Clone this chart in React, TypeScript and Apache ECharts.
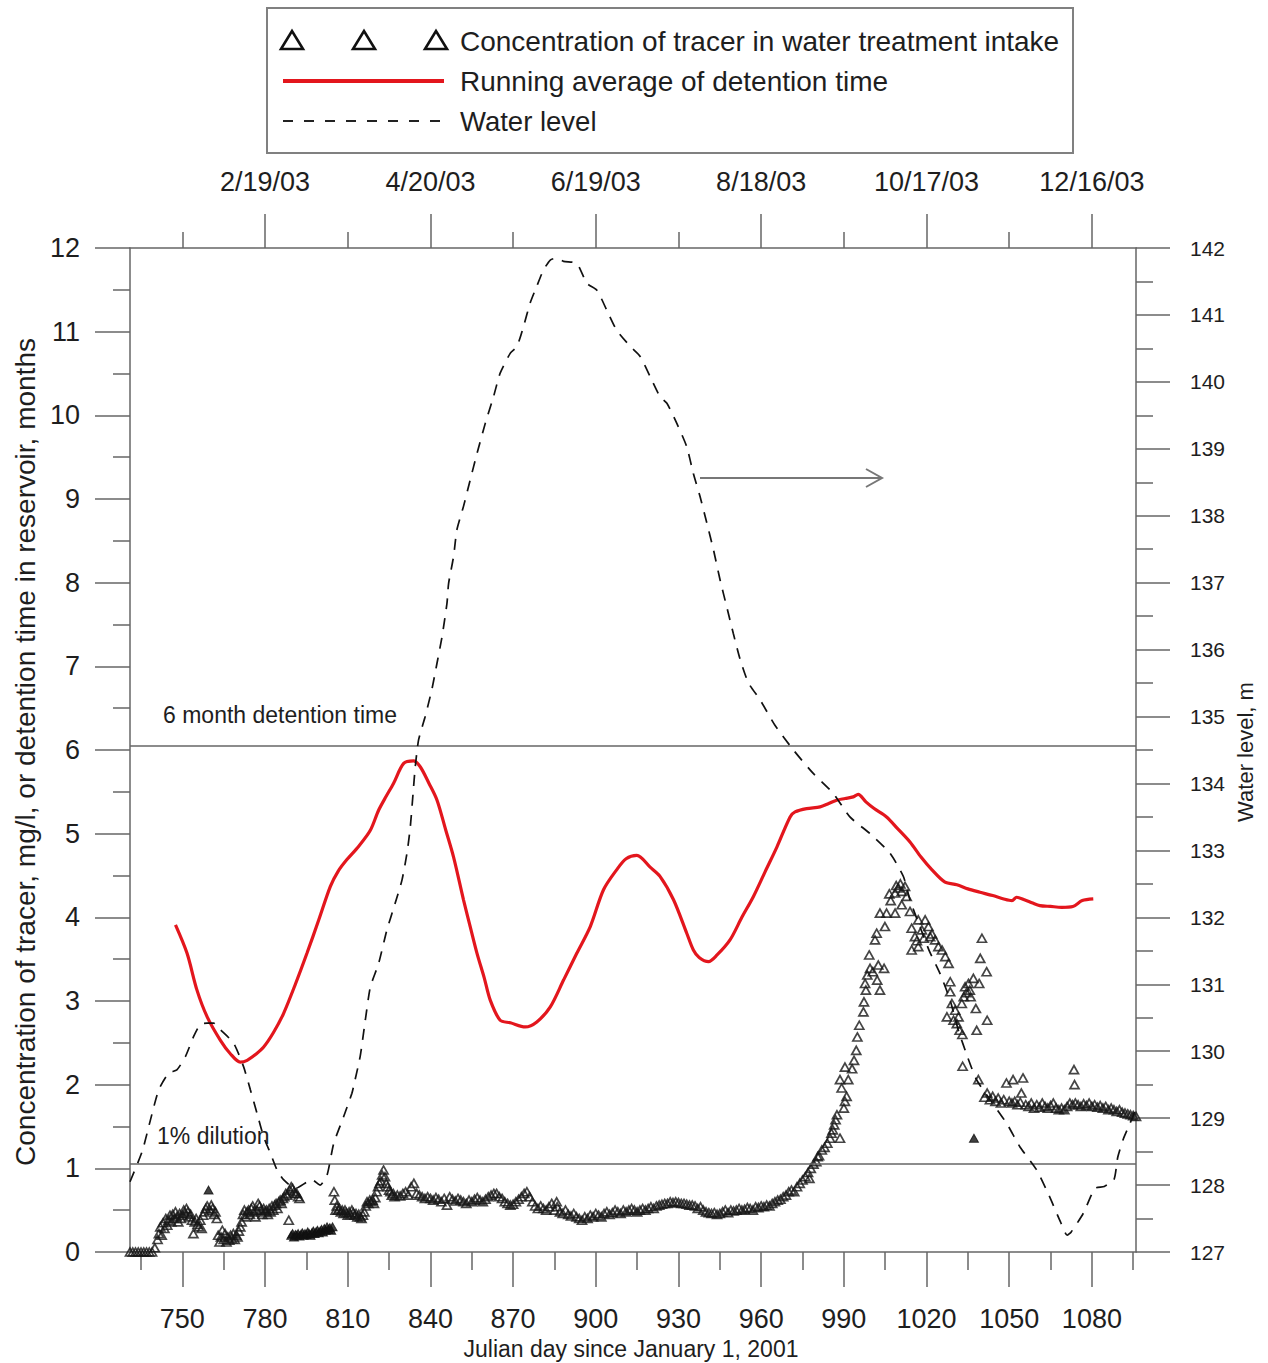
import React, { useEffect, useRef } from "react";
import * as echarts from "echarts";

// ---------- axis ticks / labels ----------
const bottomMajorTicks = [750, 780, 810, 840, 870, 900, 930, 960, 990, 1020, 1050, 1080];
const bottomMinorTicks = [735, 765, 795, 825, 855, 885, 915, 945, 975, 1005, 1035, 1065, 1095];
const topMajorDays = [780, 840, 900, 960, 1020, 1080];
const topDateLabels = ["2/19/03", "4/20/03", "6/19/03", "8/18/03", "10/17/03", "12/16/03"];
const topMinorDays = [750, 810, 870, 930, 990, 1050];

// reference lines (months)
const detentionLineValue = 6.05;
const dilutionLineValue = 1.05;

// ---------- running average of detention time (day, months) ----------
const detention: [number, number][] = [
  [747.5, 3.91], [751.7, 3.57], [755.3, 3.13], [759, 2.81], [763.8, 2.53], [767.4, 2.37], [771, 2.27],
  [773.5, 2.29], [776.5, 2.36], [779.5, 2.45], [783, 2.62], [786.7, 2.85], [791, 3.2], [795.2, 3.57],
  [799.5, 3.97], [803.7, 4.37], [806.5, 4.55], [809.7, 4.69], [814, 4.85], [818.2, 5.04], [821.2, 5.28],
  [824, 5.45], [826.6, 5.6], [830.3, 5.84], [833.9, 5.87], [836.3, 5.8], [839.5, 5.6], [842.4, 5.4],
  [845.5, 5.05], [848.4, 4.72], [852, 4.21], [854.5, 3.88], [856.9, 3.57], [859.5, 3.28], [861.7, 3.01],
  [865.3, 2.77], [869, 2.74], [874.4, 2.69], [878.6, 2.75], [883.5, 2.93], [888.3, 3.25], [893.1, 3.57],
  [898, 3.89], [902.8, 4.33], [907.6, 4.57], [911, 4.7], [914.9, 4.74], [919.7, 4.6], [923.3, 4.49],
  [928.2, 4.21], [933, 3.81], [935.4, 3.61], [937.5, 3.52], [940.9, 3.47], [944, 3.55], [948.7, 3.73],
  [953, 4.0], [957.2, 4.25], [961.5, 4.55], [965.7, 4.84], [970.5, 5.2], [972.3, 5.26], [976.5, 5.3],
  [981.4, 5.32], [984.5, 5.36], [987.4, 5.4], [990.5, 5.42], [993.4, 5.44], [995.2, 5.47], [998, 5.38],
  [1001, 5.3], [1005.5, 5.2], [1009.5, 5.06], [1014, 4.9], [1018, 4.72], [1021.9, 4.57], [1026.7, 4.42],
  [1031, 4.39], [1035, 4.34], [1039.4, 4.3], [1044, 4.26], [1048, 4.22], [1051, 4.2], [1052.7, 4.24],
  [1055.5, 4.21], [1058.5, 4.17], [1061.1, 4.14], [1065, 4.13], [1069, 4.12], [1073.1, 4.13],
  [1076.5, 4.2], [1080.5, 4.22],
];

// ---------- water level (day, m) ----------
const waterLevel: [number, number][] = [
  [731, 128.05], [735.4, 128.5], [738.4, 128.97], [741.4, 129.42], [745, 129.67], [748, 129.72],
  [751.1, 129.92], [754.1, 130.22], [756.5, 130.4], [759, 130.42], [761.3, 130.42], [763.8, 130.32],
  [768.6, 130.12], [772.2, 129.77], [774.7, 129.42], [777.1, 129.07], [779.5, 128.72], [782, 128.47],
  [784.3, 128.23], [786.7, 128.08], [791, 127.95], [797, 128.08], [800, 128.0], [802.5, 128.15],
  [804.9, 128.62], [808.5, 129.02], [811.5, 129.37], [812.1, 129.47], [814.5, 129.92], [816.4, 130.47],
  [818.2, 130.96], [821.2, 131.31], [824.2, 131.81], [827.2, 132.21], [829.7, 132.56], [831.5, 132.96],
  [832.7, 133.35], [833.7, 133.85], [834.5, 134.25], [835.7, 134.65], [838.1, 135.0], [840.5, 135.4],
  [842.4, 135.8], [844.2, 136.19], [846.0, 136.69], [846.6, 136.99], [848.4, 137.39], [849.6, 137.79],
  [852, 138.14], [854.4, 138.53], [856.9, 138.93], [859.9, 139.38], [862.9, 139.78], [865.3, 140.13],
  [869, 140.43], [871.4, 140.53], [873.8, 140.83], [876.2, 141.18], [878.6, 141.43], [881, 141.67],
  [883.5, 141.82], [885.9, 141.85], [888.3, 141.8], [893.1, 141.77], [896.8, 141.47], [900.4, 141.37],
  [904, 141.07], [907.6, 140.77], [912.5, 140.53], [916.1, 140.38], [919.7, 140.08], [923.3, 139.78],
  [925.8, 139.68], [929.4, 139.38], [933, 139.03], [935.4, 138.63], [937.8, 138.29], [940.3, 137.89],
  [942.7, 137.49], [945.1, 137.04], [947.5, 136.64], [949.9, 136.24], [952.4, 135.85], [955.4, 135.5],
  [959.6, 135.25], [965, 134.87], [971.7, 134.5], [978.9, 134.15], [986.2, 133.85], [992.2, 133.5],
  [999.5, 133.25], [1006.7, 132.96], [1011.6, 132.61], [1014, 132.26], [1017.6, 131.86], [1021, 131.5],
  [1024.9, 131.16], [1028.5, 130.77], [1031.5, 130.32], [1035, 129.9], [1038.2, 129.57], [1043.5, 129.25],
  [1049.1, 128.92], [1053.9, 128.57], [1059.9, 128.23], [1064.6, 127.83], [1068.6, 127.45], [1071, 127.25],
  [1072.5, 127.3], [1076.9, 127.58], [1081.1, 127.95], [1084.5, 127.98], [1088, 128.08], [1089.4, 128.42],
  [1091.5, 128.7], [1093.8, 128.92], [1096, 129.15],
];

// ---------- tracer concentration (day, mg/l) ----------
const tracerEarly: [number, number][] = [
  [731, 0], [732, 0], [733, 0], [734, 0], [735, 0], [736, 0], [737, 0], [738, 0], [739, 0],
  [740, 0.05], [741, 0.15], [741.5, 0.22], [742, 0.3], [742.5, 0.2], [743, 0.35], [743.5, 0.28],
  [744, 0.4], [744.5, 0.32], [745, 0.38], [745.5, 0.44], [746, 0.36], [746.5, 0.45], [747, 0.4],
  [747.5, 0.48], [748, 0.42], [748.5, 0.36], [749, 0.46], [749.5, 0.4], [750, 0.44], [750.5, 0.5],
  [751, 0.46], [751.5, 0.52], [752, 0.48], [752.5, 0.42], [753, 0.45], [753.5, 0.38], [754, 0.22],
  [754.5, 0.36], [755, 0.4], [755.5, 0.33], [756, 0.3], [756.5, 0.38], [757, 0.28], [757.5, 0.44],
  [758, 0.48], [758.5, 0.52], [759, 0.55], [760, 0.5], [760.5, 0.56], [761, 0.52],
  [761.5, 0.45], [762, 0.48], [762.5, 0.4],
  [763, 0.2], [763.5, 0.12], [764, 0.18], [764.5, 0.26], [765, 0.15], [765.5, 0.22], [766, 0.12],
  [766.5, 0.18], [767, 0.14], [767.5, 0.2], [768, 0.16], [768.5, 0.22], [769, 0.15], [769.5, 0.2],
  [770, 0.18], [770.5, 0.25], [771, 0.3],
  [771.5, 0.36], [772, 0.45], [772.5, 0.5], [773, 0.42], [773.5, 0.48], [774, 0.5], [774.5, 0.45],
  [775, 0.52], [775.5, 0.55], [776, 0.48], [776.5, 0.42], [777, 0.5], [777.5, 0.58], [778, 0.55],
  [778.5, 0.5], [779, 0.45], [779.5, 0.52], [780, 0.48], [780.5, 0.5], [781, 0.45], [781.5, 0.52],
  [782, 0.48], [782.5, 0.55], [783, 0.5], [783.5, 0.56], [784, 0.58], [784.5, 0.52], [785, 0.6],
  [785.5, 0.62], [786, 0.58], [786.5, 0.64], [787, 0.66], [787.5, 0.7], [788, 0.68], [788.6, 0.38],
  [789, 0.74], [789.5, 0.78], [790, 0.76], [790.5, 0.72], [791, 0.7], [791.5, 0.7], [792, 0.66],
  [792.5, 0.64],
  [805, 0.72], [805.3, 0.62], [805.6, 0.5], [806, 0.55], [806.5, 0.5], [807, 0.52], [807.5, 0.48],
  [808, 0.5], [808.5, 0.46], [809, 0.5], [809.5, 0.47], [810, 0.44], [810.5, 0.48], [811, 0.45],
  [811.5, 0.5], [812, 0.47], [812.5, 0.44], [813, 0.46], [813.5, 0.42], [814, 0.45], [814.5, 0.42],
  [815, 0.4], [815.5, 0.44], [816, 0.48], [816.5, 0.55], [817, 0.6], [817.5, 0.58], [818, 0.62],
  [818.5, 0.6], [819, 0.62], [819.5, 0.58], [820, 0.65], [820.5, 0.72], [821, 0.78], [821.5, 0.82],
  [822, 0.85], [822.5, 0.92], [823, 0.98], [823.5, 0.9], [824, 0.82], [824.5, 0.78], [825, 0.74],
  [825.5, 0.72], [826, 0.68], [826.5, 0.7],
];

const tracerMid: [number, number][] = [
  [827, 0.66], [828, 0.68], [829, 0.67], [830, 0.7], [831, 0.72], [832, 0.68], [833, 0.78], [834, 0.82],
  [835, 0.7], [836, 0.68], [837, 0.66], [838, 0.64], [839, 0.66], [840, 0.64], [841, 0.62], [842, 0.65],
  [843, 0.63], [844, 0.6], [845, 0.64], [846, 0.56], [847, 0.66], [848, 0.63], [849, 0.61], [850, 0.64],
  [851, 0.62], [852, 0.6], [853, 0.58], [854, 0.62], [855, 0.6], [856, 0.63], [857, 0.65], [858, 0.62],
  [859, 0.6], [860, 0.63], [861, 0.66], [862, 0.68], [863, 0.7], [864, 0.7], [865, 0.66], [866, 0.64],
  [867, 0.6], [868, 0.58], [869, 0.56], [870, 0.57], [871, 0.6], [872, 0.63], [873, 0.66], [874, 0.7],
  [875, 0.72], [876, 0.66], [877, 0.6], [878, 0.55], [879, 0.52], [880, 0.55], [881, 0.52], [882, 0.5],
  [883, 0.54], [884, 0.58], [885, 0.5], [885.8, 0.6], [886, 0.54], [887, 0.48], [888, 0.46], [889, 0.5],
  [890, 0.45], [891, 0.43], [892, 0.46], [893, 0.42], [894, 0.4], [895, 0.38], [896, 0.42], [897, 0.4],
  [898, 0.44], [899, 0.42], [900, 0.46], [901, 0.44], [902, 0.42], [903, 0.46], [904, 0.48], [905, 0.45],
  [906, 0.47], [907, 0.5], [908, 0.48], [909, 0.46], [910, 0.5], [911, 0.48], [912, 0.5], [913, 0.52],
  [914, 0.5], [915, 0.48], [916, 0.5], [917, 0.52], [918, 0.5], [919, 0.52], [920, 0.54], [921, 0.52],
  [922, 0.55], [923, 0.56], [924, 0.57], [925, 0.58], [926, 0.58], [927, 0.6], [928, 0.59], [929, 0.6],
  [930, 0.59], [931, 0.58], [932, 0.58], [933, 0.57], [934, 0.56], [935, 0.56], [936, 0.55], [937, 0.52],
  [938, 0.54], [939, 0.5], [940, 0.48], [941, 0.47], [942, 0.46], [943, 0.47], [944, 0.45], [945, 0.46],
  [946, 0.48], [947, 0.5], [948, 0.47], [949, 0.5], [950, 0.49], [951, 0.5], [952, 0.52], [953, 0.5],
  [954, 0.51], [955, 0.53], [956, 0.52], [957, 0.5], [958, 0.54], [959, 0.53], [960, 0.55],
];

const tracerPeak: [number, number][] = [
  [961, 0.54], [962, 0.56], [963, 0.55], [964, 0.58], [965, 0.6], [966, 0.62], [967, 0.63], [968, 0.66],
  [969, 0.68], [970, 0.72], [971, 0.74], [972, 0.72], [973, 0.78], [974, 0.82], [975, 0.86], [976, 0.9],
  [977, 0.95], [977.5, 0.88], [978, 1.0], [979, 1.05], [980, 1.08], [980.5, 1.14], [981, 1.15],
  [982, 1.22], [983, 1.25], [984, 1.3], [985, 1.36], [985.5, 1.42], [986, 1.46], [986.5, 1.52],
  [987, 1.58], [987.5, 1.64], [988.6, 1.36], [988.6, 2.06], [989.2, 1.96], [990, 1.72], [990.4, 1.8],
  [991, 1.86], [991.6, 2.06], [990.4, 2.21], [993, 2.19], [993.7, 2.29], [994.5, 2.41], [994.9, 2.57],
  [995.6, 2.71], [997.1, 2.87], [997.3, 2.99], [998, 3.13], [997.7, 3.21], [998.5, 3.31], [999.5, 3.39],
  [1000.5, 3.35], [1002.1, 3.25], [1003.1, 3.13], [1002.5, 3.43], [1004.6, 3.39], [999.2, 3.55],
  [1001.3, 3.73], [1001.9, 3.81], [1003.1, 4.05], [1005.5, 4.05], [1004.9, 3.89], [1008.6, 4.05],
  [1008.6, 4.29], [1009.8, 4.35], [1011, 4.31], [1012.2, 4.37], [1012.8, 4.25], [1011, 4.15],
  [1007, 4.2], [1006.5, 4.28], [1010.5, 4.4], [1009, 4.38], [1014, 4.07], [1014.6, 3.87], [1014.6, 3.61],
  [1015.8, 3.77], [1017, 3.97], [1018.3, 3.85], [1019.5, 3.97], [1020.7, 3.89], [1021.3, 3.77],
  [1023.1, 3.73], [1024.3, 3.65], [1025.6, 3.61], [1026.8, 3.53], [1028, 3.45], [1017, 3.65],
  [1016.5, 3.72], [1019, 3.75], [1022, 3.8], [1028.6, 3.23], [1028.6, 3.11], [1029.2, 2.97],
  [1030.4, 2.89], [1031.6, 2.81], [1032.8, 2.97], [1027.4, 2.81], [1029.8, 2.77], [1031, 2.73],
  [1034, 3.17], [1035.2, 3.21], [1037, 3.27], [1035.7, 3.13], [1039.1, 3.21], [1037.9, 2.91],
  [1038.2, 2.65], [1042, 2.77], [1041.8, 3.35], [1039.5, 3.51], [1040.1, 3.75], [1033.1, 2.22],
  [1038.8, 2.06], [1033.5, 3.05], [1034.5, 3.1], [1036, 3.05], [1032, 2.65], [1033, 2.6],
];

const tracerLate: [number, number][] = [
  [1041, 1.85], [1042, 1.9], [1043, 1.82], [1044, 1.86], [1045, 1.8], [1046, 1.84], [1047, 1.78],
  [1048, 1.82], [1049, 2.02], [1050, 1.8], [1051, 1.78], [1051.4, 2.06], [1052, 1.8], [1053, 1.76],
  [1054, 1.79], [1055, 2.08], [1054.4, 1.9], [1056, 1.76], [1057, 1.74], [1058, 1.78], [1059, 1.72],
  [1060, 1.76], [1061, 1.73], [1062, 1.78], [1063, 1.74], [1064, 1.72], [1065, 1.75], [1066, 1.78],
  [1067, 1.72], [1068, 1.7], [1069, 1.72], [1070, 1.7], [1071, 1.74], [1072, 1.78], [1073, 1.76],
  [1073.5, 2.18], [1073.7, 2.0], [1074, 1.78], [1075, 1.76], [1076, 1.74], [1077, 1.77], [1078, 1.75],
  [1079, 1.78], [1080, 1.74], [1081, 1.76], [1082, 1.73], [1083, 1.75], [1084, 1.72], [1085, 1.74],
  [1086, 1.7], [1087, 1.72], [1088, 1.7], [1089, 1.68], [1090, 1.7], [1091, 1.67], [1092, 1.66],
  [1093, 1.65], [1094, 1.64], [1095, 1.63], [1096, 1.62],
];

// dark (filled-looking) tracer triangles
const tracerFilled: [number, number][] = [
  [759.5, 0.74], [789.5, 0.2], [790, 0.22], [790.5, 0.18], [791, 0.21], [791.5, 0.2], [792, 0.22],
  [792.5, 0.19], [793, 0.21], [793.5, 0.23], [794, 0.2], [794.5, 0.22], [795, 0.21], [795.5, 0.24],
  [796, 0.22], [796.5, 0.2], [797, 0.23], [797.5, 0.25], [798, 0.22], [798.5, 0.24], [799, 0.26],
  [799.5, 0.23], [800, 0.25], [800.5, 0.27], [801, 0.24], [801.5, 0.28], [802, 0.26], [802.5, 0.3],
  [803, 0.27], [803.5, 0.29], [804, 0.26], [804.5, 0.3], [1037.2, 1.36],
];

const FONT = '"Liberation Sans", Arial, Helvetica, sans-serif';
const AXIS_COLOR = "#666";
const TEXT_COLOR = "#1e1e1e";

export default function App() {
  const ref = useRef<HTMLDivElement>(null);

  useEffect(() => {
    if (!ref.current) return;
    const chart = echarts.init(ref.current, undefined, { renderer: "svg" });

    const lineStyle = { color: AXIS_COLOR, width: 1.5 };
    const tracerAll = [...tracerEarly, ...tracerMid, ...tracerPeak, ...tracerLate];

    const txt = (text: string, x: number, y: number, size: number, extra: any = {}) => ({
      type: "text",
      x,
      y,
      silent: true,
      ...extra,
      style: {
        text,
        fontFamily: FONT,
        fontSize: size,
        fill: TEXT_COLOR,
        align: extra.align || "left",
        verticalAlign: "middle",
      },
    });

    const tri = (cx: number, cy: number) => ({
      type: "polygon",
      silent: true,
      shape: { points: [[cx - 11, cy + 9], [cx + 11, cy + 9], [cx, cy - 9]] },
      style: { fill: "none", stroke: "#111", lineWidth: 2.6 },
    });

    const option: any = {
      animation: false,
      backgroundColor: "#fff",
      grid: { left: 130, right: 132, top: 248, bottom: 111, containLabel: false },
      xAxis: [
        {
          type: "value",
          position: "bottom",
          min: 731,
          max: 1096,
          axisLine: { show: true, onZero: false, lineStyle },
          axisTick: { show: true, inside: false, length: 35, lineStyle, customValues: bottomMajorTicks },
          axisLabel: {
            show: true,
            customValues: bottomMajorTicks,
            margin: 53,
            fontSize: 27,
            fontFamily: FONT,
            color: TEXT_COLOR,
            formatter: (v: number) => String(Math.round(v)),
          },
          splitLine: { show: false },
        },
        {
          type: "value",
          position: "bottom",
          min: 731,
          max: 1096,
          axisLine: { show: false, onZero: false },
          axisTick: { show: true, inside: false, length: 18, lineStyle, customValues: bottomMinorTicks },
          axisLabel: { show: false },
          splitLine: { show: false },
        },
        {
          type: "value",
          position: "top",
          min: 731,
          max: 1096,
          axisLine: { show: true, onZero: false, lineStyle },
          axisTick: { show: true, inside: false, length: 34, lineStyle, customValues: topMajorDays },
          axisLabel: {
            show: true,
            customValues: topMajorDays,
            margin: 53,
            fontSize: 27,
            fontFamily: FONT,
            color: TEXT_COLOR,
            formatter: (v: number) => {
              const i = topMajorDays.indexOf(Math.round(v));
              return i >= 0 ? topDateLabels[i] : "";
            },
          },
          splitLine: { show: false },
        },
        {
          type: "value",
          position: "top",
          min: 731,
          max: 1096,
          axisLine: { show: false, onZero: false },
          axisTick: { show: true, inside: false, length: 16, lineStyle, customValues: topMinorDays },
          axisLabel: { show: false },
          splitLine: { show: false },
        },
      ],
      yAxis: [
        {
          type: "value",
          position: "left",
          min: 0,
          max: 12,
          interval: 1,
          axisLine: { show: true, onZero: false, lineStyle },
          axisTick: { show: true, inside: false, length: 35, lineStyle },
          minorTick: { show: true, splitNumber: 2, length: 17, lineStyle },
          axisLabel: { margin: 50, fontSize: 27, fontFamily: FONT, color: TEXT_COLOR },
          splitLine: { show: false },
          minorSplitLine: { show: false },
        },
        {
          type: "value",
          position: "right",
          min: 127,
          max: 142,
          interval: 1,
          axisLine: { show: true, onZero: false, lineStyle },
          axisTick: { show: true, inside: false, length: 34, lineStyle },
          minorTick: { show: true, splitNumber: 2, length: 17, lineStyle },
          axisLabel: { margin: 54, fontSize: 21, fontFamily: FONT, color: TEXT_COLOR },
          splitLine: { show: false },
          minorSplitLine: { show: false },
        },
      ],
      series: [
        {
          name: "Concentration of tracer in water treatment intake",
          type: "scatter",
          xAxisIndex: 0,
          yAxisIndex: 0,
          data: tracerAll,
          symbol: "triangle",
          symbolSize: [9, 8],
          itemStyle: { color: "rgba(255,255,255,0)", borderColor: "#161616", borderWidth: 1.7 },
          z: 3,
        },
        {
          name: "tracer dark",
          type: "scatter",
          xAxisIndex: 0,
          yAxisIndex: 0,
          data: tracerFilled,
          symbol: "triangle",
          symbolSize: [9, 8],
          itemStyle: { color: "#111", borderColor: "#111", borderWidth: 1 },
          z: 3,
        },
        {
          name: "Running average of detention time",
          type: "line",
          xAxisIndex: 0,
          yAxisIndex: 0,
          data: detention,
          showSymbol: false,
          smooth: 0.3,
          lineStyle: { color: "#e3161d", width: 3.2 },
          z: 4,
          markLine: {
            silent: true,
            symbol: ["none", "none"],
            label: { show: false },
            lineStyle: { color: "#666", type: "solid", width: 1.6 },
            data: [{ yAxis: detentionLineValue }, { yAxis: dilutionLineValue }],
          },
        },
        {
          name: "Water level",
          type: "line",
          xAxisIndex: 0,
          yAxisIndex: 1,
          data: waterLevel,
          showSymbol: false,
          smooth: 0.2,
          lineStyle: { color: "#111", width: 1.7, type: [11, 9] },
          z: 5,
        },
      ],
      graphic: [
        // legend box
        {
          type: "rect",
          silent: true,
          shape: { x: 267, y: 8, width: 806, height: 145 },
          style: { fill: "#fff", stroke: "#808080", lineWidth: 2 },
          z: 10,
        },
        { ...tri(292, 40), z: 11 },
        { ...tri(364, 40), z: 11 },
        { ...tri(436, 40), z: 11 },
        { ...txt("Concentration of tracer in water treatment intake", 460, 41, 28), z: 11 },
        {
          type: "line",
          silent: true,
          shape: { x1: 283, y1: 81, x2: 444, y2: 81 },
          style: { stroke: "#e3161d", lineWidth: 4 },
          z: 11,
        },
        { ...txt("Running average of detention time", 460, 81, 28), z: 11 },
        {
          type: "line",
          silent: true,
          shape: { x1: 283, y1: 121, x2: 440, y2: 121 },
          style: { stroke: "#222", lineWidth: 2, lineDash: [10, 11] },
          z: 11,
        },
        { ...txt("Water level", 460, 121, 27.5), z: 11 },
        // annotations
        txt("6 month detention time", 163, 715, 23),
        txt("1% dilution", 157, 1136, 23),
        {
          type: "line",
          silent: true,
          shape: { x1: 700, y1: 478, x2: 882, y2: 478 },
          style: { stroke: "#777", lineWidth: 2 },
        },
        {
          type: "polyline",
          silent: true,
          shape: { points: [[866, 469], [882, 478], [866, 487]] },
          style: { stroke: "#777", lineWidth: 2, fill: "none" },
        },
        // axis names
        txt("Julian day since January 1, 2001", 631, 1349, 23, { align: "center" }),
        txt(
          "Concentration of tracer, mg/l, or detention time in reservoir, months",
          25,
          752,
          28,
          { align: "center", rotation: Math.PI / 2 }
        ),
        txt("Water level, m", 1245, 752, 22, { align: "center", rotation: Math.PI / 2 }),
      ],
    };

    chart.setOption(option);
    return () => chart.dispose();
  }, []);

  return (
    <div
      ref={ref}
      style={{ position: "absolute", left: 0, top: 0, width: 1268, height: 1363, background: "#fff" }}
    />
  );
}
